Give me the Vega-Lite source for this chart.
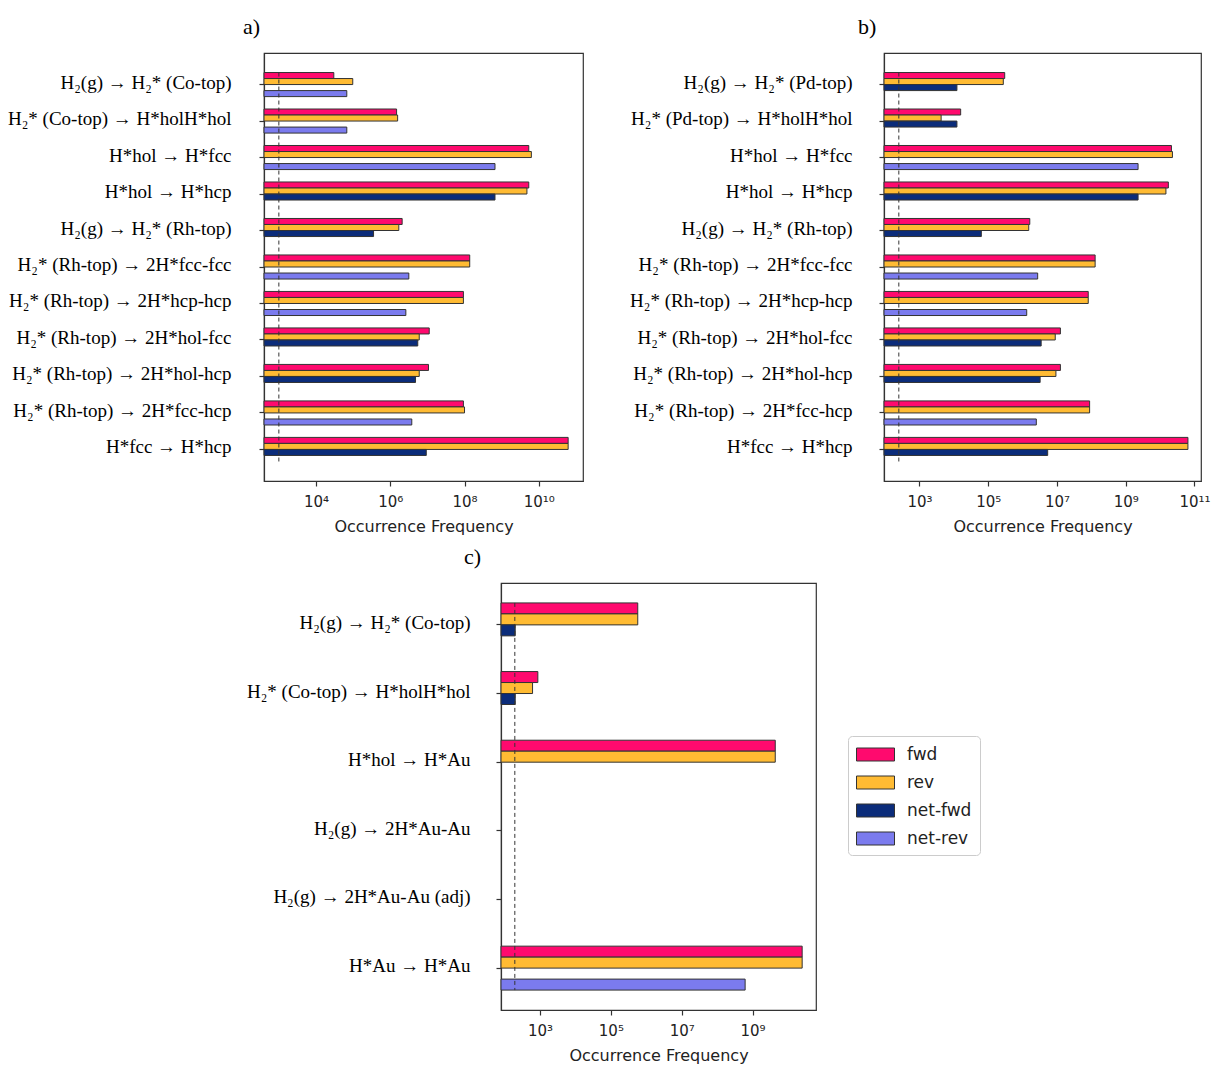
{
  "$schema": "https://vega.github.io/schema/vega-lite/v6.json",
  "background": "white",
  "padding": {"left": 6, "top": 15, "right": 0, "bottom": 0},
  "bounds": "flush",
  "spacing": 530,
  "resolve": {"scale": {"yOffset": "independent"}, "legend": {"color": "independent"}},
  "config": {
    "view": {"stroke": "#333", "strokeWidth": 1.2},
    "axis": {"domainWidth": 1.2, "tickWidth": 1.2, "domainColor": "#333", "tickColor": "#333", "grid": false}
  },
  "datasets": {
    "a": [
      {"r": "H₂(g) → H₂* (Co-top)", "s": "fwd", "v": 30200},
      {"r": "H₂(g) → H₂* (Co-top)", "s": "rev", "v": 97700},
      {"r": "H₂(g) → H₂* (Co-top)", "s": "net-rev", "v": 67600},
      {"r": "H₂* (Co-top) → H*holH*hol", "s": "fwd", "v": 1480000},
      {"r": "H₂* (Co-top) → H*holH*hol", "s": "rev", "v": 1580000},
      {"r": "H₂* (Co-top) → H*holH*hol", "s": "net-rev", "v": 67600},
      {"r": "H*hol → H*fcc", "s": "fwd", "v": 5370000000},
      {"r": "H*hol → H*fcc", "s": "rev", "v": 6310000000},
      {"r": "H*hol → H*fcc", "s": "net-rev", "v": 661000000},
      {"r": "H*hol → H*hcp", "s": "fwd", "v": 5370000000},
      {"r": "H*hol → H*hcp", "s": "rev", "v": 4790000000},
      {"r": "H*hol → H*hcp", "s": "net-fwd", "v": 661000000},
      {"r": "H₂(g) → H₂* (Rh-top)", "s": "fwd", "v": 2090000},
      {"r": "H₂(g) → H₂* (Rh-top)", "s": "rev", "v": 1700000},
      {"r": "H₂(g) → H₂* (Rh-top)", "s": "net-fwd", "v": 355000},
      {"r": "H₂* (Rh-top) → 2H*fcc-fcc", "s": "fwd", "v": 138000000},
      {"r": "H₂* (Rh-top) → 2H*fcc-fcc", "s": "rev", "v": 138000000},
      {"r": "H₂* (Rh-top) → 2H*fcc-fcc", "s": "net-rev", "v": 3160000},
      {"r": "H₂* (Rh-top) → 2H*hcp-hcp", "s": "fwd", "v": 93300000},
      {"r": "H₂* (Rh-top) → 2H*hcp-hcp", "s": "rev", "v": 93300000},
      {"r": "H₂* (Rh-top) → 2H*hcp-hcp", "s": "net-rev", "v": 2630000},
      {"r": "H₂* (Rh-top) → 2H*hol-fcc", "s": "fwd", "v": 11200000},
      {"r": "H₂* (Rh-top) → 2H*hol-fcc", "s": "rev", "v": 6030000},
      {"r": "H₂* (Rh-top) → 2H*hol-fcc", "s": "net-fwd", "v": 5500000},
      {"r": "H₂* (Rh-top) → 2H*hol-hcp", "s": "fwd", "v": 10700000},
      {"r": "H₂* (Rh-top) → 2H*hol-hcp", "s": "rev", "v": 6030000},
      {"r": "H₂* (Rh-top) → 2H*hol-hcp", "s": "net-fwd", "v": 4790000},
      {"r": "H₂* (Rh-top) → 2H*fcc-hcp", "s": "fwd", "v": 93300000},
      {"r": "H₂* (Rh-top) → 2H*fcc-hcp", "s": "rev", "v": 100000000},
      {"r": "H₂* (Rh-top) → 2H*fcc-hcp", "s": "net-rev", "v": 3800000},
      {"r": "H*fcc → H*hcp", "s": "fwd", "v": 61700000000},
      {"r": "H*fcc → H*hcp", "s": "rev", "v": 61700000000},
      {"r": "H*fcc → H*hcp", "s": "net-fwd", "v": 9330000}
    ],
    "b": [
      {"r": "H₂(g) → H₂* (Pd-top)", "s": "fwd", "v": 302000},
      {"r": "H₂(g) → H₂* (Pd-top)", "s": "rev", "v": 275000},
      {"r": "H₂(g) → H₂* (Pd-top)", "s": "net-fwd", "v": 12300},
      {"r": "H₂* (Pd-top) → H*holH*hol", "s": "fwd", "v": 15800},
      {"r": "H₂* (Pd-top) → H*holH*hol", "s": "rev", "v": 4270},
      {"r": "H₂* (Pd-top) → H*holH*hol", "s": "net-fwd", "v": 12300},
      {"r": "H*hol → H*fcc", "s": "fwd", "v": 21400000000},
      {"r": "H*hol → H*fcc", "s": "rev", "v": 22900000000},
      {"r": "H*hol → H*fcc", "s": "net-rev", "v": 2290000000},
      {"r": "H*hol → H*hcp", "s": "fwd", "v": 17400000000},
      {"r": "H*hol → H*hcp", "s": "rev", "v": 14800000000},
      {"r": "H*hol → H*hcp", "s": "net-fwd", "v": 2290000000},
      {"r": "H₂(g) → H₂* (Rh-top)", "s": "fwd", "v": 1620000},
      {"r": "H₂(g) → H₂* (Rh-top)", "s": "rev", "v": 1510000},
      {"r": "H₂(g) → H₂* (Rh-top)", "s": "net-fwd", "v": 63100},
      {"r": "H₂* (Rh-top) → 2H*fcc-fcc", "s": "fwd", "v": 129000000},
      {"r": "H₂* (Rh-top) → 2H*fcc-fcc", "s": "rev", "v": 129000000},
      {"r": "H₂* (Rh-top) → 2H*fcc-fcc", "s": "net-rev", "v": 2750000},
      {"r": "H₂* (Rh-top) → 2H*hcp-hcp", "s": "fwd", "v": 81300000},
      {"r": "H₂* (Rh-top) → 2H*hcp-hcp", "s": "rev", "v": 81300000},
      {"r": "H₂* (Rh-top) → 2H*hcp-hcp", "s": "net-rev", "v": 1320000},
      {"r": "H₂* (Rh-top) → 2H*hol-fcc", "s": "fwd", "v": 12600000},
      {"r": "H₂* (Rh-top) → 2H*hol-fcc", "s": "rev", "v": 8910000},
      {"r": "H₂* (Rh-top) → 2H*hol-fcc", "s": "net-fwd", "v": 3470000},
      {"r": "H₂* (Rh-top) → 2H*hol-hcp", "s": "fwd", "v": 12600000},
      {"r": "H₂* (Rh-top) → 2H*hol-hcp", "s": "rev", "v": 9330000},
      {"r": "H₂* (Rh-top) → 2H*hol-hcp", "s": "net-fwd", "v": 3240000},
      {"r": "H₂* (Rh-top) → 2H*fcc-hcp", "s": "fwd", "v": 89100000},
      {"r": "H₂* (Rh-top) → 2H*fcc-hcp", "s": "rev", "v": 89100000},
      {"r": "H₂* (Rh-top) → 2H*fcc-hcp", "s": "net-rev", "v": 2510000},
      {"r": "H*fcc → H*hcp", "s": "fwd", "v": 64600000000},
      {"r": "H*fcc → H*hcp", "s": "rev", "v": 64600000000},
      {"r": "H*fcc → H*hcp", "s": "net-fwd", "v": 5370000}
    ],
    "c": [
      {"r": "H₂(g) → H₂* (Co-top)", "s": "fwd", "v": 575000},
      {"r": "H₂(g) → H₂* (Co-top)", "s": "rev", "v": 575000},
      {"r": "H₂(g) → H₂* (Co-top)", "s": "net-fwd", "v": 200},
      {"r": "H₂* (Co-top) → H*holH*hol", "s": "fwd", "v": 871},
      {"r": "H₂* (Co-top) → H*holH*hol", "s": "rev", "v": 617},
      {"r": "H₂* (Co-top) → H*holH*hol", "s": "net-fwd", "v": 200},
      {"r": "H*hol → H*Au", "s": "fwd", "v": 4370000000},
      {"r": "H*hol → H*Au", "s": "rev", "v": 4370000000},
      {"r": "H*Au → H*Au", "s": "fwd", "v": 25100000000},
      {"r": "H*Au → H*Au", "s": "rev", "v": 25100000000},
      {"r": "H*Au → H*Au", "s": "net-rev", "v": 617000000}
    ]
  },
  "vconcat": [
    {
      "hconcat": [
        {
          "title": {"text": "a)", "anchor": "start", "frame": "group", "dx": -21, "offset": -3, "baseline": "alphabetic", "font": "Liberation Serif", "fontSize": 22, "fontWeight": "normal", "color": "black"},
          "width": 319,
          "height": 428,
          "layer": [
            {
              "data": {"name": "a"},
              "mark": {"type": "bar", "stroke": "#333", "strokeWidth": 1},
              "encoding": {
                "y": {"field": "r", "type": "nominal", "sort": null,
                  "scale": {"domain": ["H₂(g) → H₂* (Co-top)", "H₂* (Co-top) → H*holH*hol", "H*hol → H*fcc", "H*hol → H*hcp", "H₂(g) → H₂* (Rh-top)", "H₂* (Rh-top) → 2H*fcc-fcc", "H₂* (Rh-top) → 2H*hcp-hcp", "H₂* (Rh-top) → 2H*hol-fcc", "H₂* (Rh-top) → 2H*hol-hcp", "H₂* (Rh-top) → 2H*fcc-hcp", "H*fcc → H*hcp"], "paddingInner": 0.34, "paddingOuter": 0.535},
                  "axis": {"title": null, "labelFont": "Liberation Serif", "labelFontSize": 19, "labelColor": "black", "labelPadding": 28, "labelOffset": -2, "tickSize": 5, "labelLimit": 400}},
                "yOffset": {"field": "s", "type": "nominal", "scale": {"domain": ["fwd", "rev", "net-fwd", "net-rev"], "paddingInner": 0, "paddingOuter": 0}},
                "x": {"field": "v", "type": "quantitative",
                  "scale": {"type": "log", "domain": [398, 155000000000], "nice": false},
                  "axis": {"title": "Occurrence Frequency", "values": [10000, 1000000, 100000000, 10000000000],
                    "labelExpr": "'10' + (round(log(datum.value)/LN10) == 3 ? '³' : round(log(datum.value)/LN10) == 4 ? '⁴' : round(log(datum.value)/LN10) == 5 ? '⁵' : round(log(datum.value)/LN10) == 6 ? '⁶' : round(log(datum.value)/LN10) == 7 ? '⁷' : round(log(datum.value)/LN10) == 8 ? '⁸' : round(log(datum.value)/LN10) == 9 ? '⁹' : round(log(datum.value)/LN10) == 10 ? '¹⁰' : '¹¹')",
                    "labelFont": "DejaVu Sans", "labelFontSize": 15, "labelColor": "#222", "labelPadding": 8, "labelFlush": false,
                    "titleFont": "DejaVu Sans", "titleFontSize": 16, "titleFontWeight": "normal", "titleColor": "#222", "titlePadding": 9, "tickSize": 5}},
                "x2": {"datum": 398},
                "color": {"field": "s", "type": "nominal", "scale": {"domain": ["fwd", "rev", "net-fwd", "net-rev"], "range": ["#ff0a6e", "#ffbb33", "#0b2c7a", "#7b7bee"]}, "legend": null}
              }
            },
            {
              "data": {"values": [{"threshold": 1000}]},
              "mark": {"type": "rule", "strokeDash": [4, 3], "color": "#333", "strokeWidth": 1},
              "encoding": {
                "x": {"field": "threshold", "type": "quantitative", "title": "Occurrence Frequency"},
                "y": {"datum": "H₂(g) → H₂* (Co-top)", "bandPosition": 0},
                "y2": {"datum": "H*fcc → H*hcp", "bandPosition": 1}
              }
            }
          ]
        },
        {
          "title": {"text": "b)", "anchor": "start", "frame": "group", "dx": -26, "offset": -3, "baseline": "alphabetic", "font": "Liberation Serif", "fontSize": 22, "fontWeight": "normal", "color": "black"},
          "width": 317,
          "height": 428,
          "layer": [
            {
              "data": {"name": "b"},
              "mark": {"type": "bar", "stroke": "#333", "strokeWidth": 1},
              "encoding": {
                "y": {"field": "r", "type": "nominal", "sort": null,
                  "scale": {"domain": ["H₂(g) → H₂* (Pd-top)", "H₂* (Pd-top) → H*holH*hol", "H*hol → H*fcc", "H*hol → H*hcp", "H₂(g) → H₂* (Rh-top)", "H₂* (Rh-top) → 2H*fcc-fcc", "H₂* (Rh-top) → 2H*hcp-hcp", "H₂* (Rh-top) → 2H*hol-fcc", "H₂* (Rh-top) → 2H*hol-hcp", "H₂* (Rh-top) → 2H*fcc-hcp", "H*fcc → H*hcp"], "paddingInner": 0.34, "paddingOuter": 0.535},
                  "axis": {"title": null, "labelFont": "Liberation Serif", "labelFontSize": 19, "labelColor": "black", "labelPadding": 27, "labelOffset": -2, "tickSize": 5, "labelLimit": 400}},
                "yOffset": {"field": "s", "type": "nominal", "scale": {"domain": ["fwd", "rev", "net-fwd", "net-rev"], "paddingInner": 0, "paddingOuter": 0}},
                "x": {"field": "v", "type": "quantitative",
                  "scale": {"type": "log", "domain": [93, 155000000000], "nice": false},
                  "axis": {"title": "Occurrence Frequency", "values": [1000, 100000, 10000000, 1000000000, 100000000000],
                    "labelExpr": "'10' + (round(log(datum.value)/LN10) == 3 ? '³' : round(log(datum.value)/LN10) == 4 ? '⁴' : round(log(datum.value)/LN10) == 5 ? '⁵' : round(log(datum.value)/LN10) == 6 ? '⁶' : round(log(datum.value)/LN10) == 7 ? '⁷' : round(log(datum.value)/LN10) == 8 ? '⁸' : round(log(datum.value)/LN10) == 9 ? '⁹' : round(log(datum.value)/LN10) == 10 ? '¹⁰' : '¹¹')",
                    "labelFont": "DejaVu Sans", "labelFontSize": 15, "labelColor": "#222", "labelPadding": 8, "labelFlush": false,
                    "titleFont": "DejaVu Sans", "titleFontSize": 16, "titleFontWeight": "normal", "titleColor": "#222", "titlePadding": 9, "tickSize": 5}},
                "x2": {"datum": 93},
                "color": {"field": "s", "type": "nominal", "scale": {"domain": ["fwd", "rev", "net-fwd", "net-rev"], "range": ["#ff0a6e", "#ffbb33", "#0b2c7a", "#7b7bee"]}, "legend": null}
              }
            },
            {
              "data": {"values": [{"threshold": 251}]},
              "mark": {"type": "rule", "strokeDash": [4, 3], "color": "#333", "strokeWidth": 1},
              "encoding": {
                "x": {"field": "threshold", "type": "quantitative", "title": "Occurrence Frequency"},
                "y": {"datum": "H₂(g) → H₂* (Pd-top)", "bandPosition": 0},
                "y2": {"datum": "H*fcc → H*hcp", "bandPosition": 1}
              }
            }
          ]
        }
      ],
      "spacing": 301,
      "bounds": "flush",
      "resolve": {"scale": {"yOffset": "independent"}, "legend": {"color": "independent"}}
    },
    {
      "hconcat": [
        {
          "width": 1,
          "height": 427,
          "data": {"values": []},
          "mark": {"type": "point", "opacity": 0},
          "view": {"stroke": null}
        },
        {
          "title": {"text": "c)", "anchor": "start", "frame": "group", "dx": -37, "offset": -3, "baseline": "alphabetic", "font": "Liberation Serif", "fontSize": 22, "fontWeight": "normal", "color": "black"},
          "width": 315,
          "height": 427,
          "layer": [
            {
              "data": {"name": "c"},
              "mark": {"type": "bar", "stroke": "#333", "strokeWidth": 1},
              "encoding": {
                "y": {"field": "r", "type": "nominal", "sort": null,
                  "scale": {"domain": ["H₂(g) → H₂* (Co-top)", "H₂* (Co-top) → H*holH*hol", "H*hol → H*Au", "H₂(g) → 2H*Au-Au", "H₂(g) → 2H*Au-Au (adj)", "H*Au → H*Au"], "paddingInner": 0.36, "paddingOuter": 0.29},
                  "axis": {"title": null, "labelFont": "Liberation Serif", "labelFontSize": 19, "labelColor": "black", "labelPadding": 26, "labelOffset": -2, "tickSize": 5, "labelLimit": 400}},
                "yOffset": {"field": "s", "type": "nominal", "scale": {"domain": ["fwd", "rev", "net-fwd", "net-rev"], "paddingInner": 0, "paddingOuter": 0}},
                "x": {"field": "v", "type": "quantitative",
                  "scale": {"type": "log", "domain": [79.4, 61700000000], "nice": false},
                  "axis": {"title": "Occurrence Frequency", "values": [1000, 100000, 10000000, 1000000000],
                    "labelExpr": "'10' + (round(log(datum.value)/LN10) == 3 ? '³' : round(log(datum.value)/LN10) == 4 ? '⁴' : round(log(datum.value)/LN10) == 5 ? '⁵' : round(log(datum.value)/LN10) == 6 ? '⁶' : round(log(datum.value)/LN10) == 7 ? '⁷' : round(log(datum.value)/LN10) == 8 ? '⁸' : round(log(datum.value)/LN10) == 9 ? '⁹' : round(log(datum.value)/LN10) == 10 ? '¹⁰' : '¹¹')",
                    "labelFont": "DejaVu Sans", "labelFontSize": 15, "labelColor": "#222", "labelPadding": 8, "labelFlush": false,
                    "titleFont": "DejaVu Sans", "titleFontSize": 16, "titleFontWeight": "normal", "titleColor": "#222", "titlePadding": 9, "tickSize": 5}},
                "x2": {"datum": 79.4},
                "color": {"field": "s", "type": "nominal", "scale": {"domain": ["fwd", "rev", "net-fwd", "net-rev"], "range": ["#ff0a6e", "#ffbb33", "#0b2c7a", "#7b7bee"]},
                  "legend": {"title": null, "orient": "none", "legendX": 347, "legendY": 153, "direction": "vertical",
                    "symbolType": "M-1,-0.65H2.8V0.65H-1Z", "symbolSize": 400, "symbolStrokeColor": "#333", "symbolStrokeWidth": 1, "symbolOpacity": 1,
                    "labelFont": "DejaVu Sans", "labelFontSize": 17, "labelColor": "#222", "labelOffset": 30, "rowPadding": 9, "padding": 8,
                    "strokeColor": "#cccccc", "fillColor": "white", "cornerRadius": 4}}
              }
            },
            {
              "data": {"values": [{"threshold": 195}]},
              "mark": {"type": "rule", "strokeDash": [4, 3], "color": "#333", "strokeWidth": 1},
              "encoding": {
                "x": {"field": "threshold", "type": "quantitative", "title": "Occurrence Frequency"},
                "y": {"datum": "H₂(g) → H₂* (Co-top)", "bandPosition": 0},
                "y2": {"datum": "H*Au → H*Au", "bandPosition": 1}
              }
            }
          ]
        }
      ],
      "spacing": 236,
      "bounds": "flush",
      "resolve": {"scale": {"yOffset": "independent"}, "legend": {"color": "independent"}}
    }
  ]
}
